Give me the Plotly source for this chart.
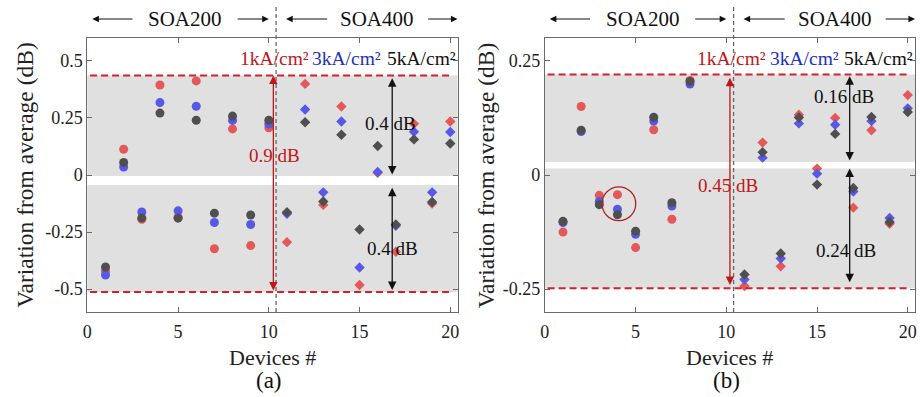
import plotly.graph_objects as go

# ---------------- data ----------------
devices = list(range(1, 21))

# (a) variation from average, dB, per drive current
red_a = [-0.42, 0.113, -0.194, 0.394, -0.185, 0.412, -0.323, 0.202, -0.309, 0.207,
         -0.294, 0.399, -0.131, 0.300, -0.482, 0.010, -0.336, 0.224, -0.125, 0.234]
blue_a = [-0.438, 0.035, -0.162, 0.317, -0.157, 0.301, -0.208, 0.239, -0.217, 0.223,
          -0.170, 0.287, -0.076, 0.234, -0.405, 0.013, -0.222, 0.189, -0.076, 0.188]
gray_a = [-0.403, 0.055, -0.188, 0.271, -0.189, 0.240, -0.167, 0.258, -0.175, 0.240,
          -0.163, 0.231, -0.116, 0.176, -0.239, 0.127, -0.217, 0.156, -0.118, 0.138]

# (b)
red_b = [-0.125, 0.150, -0.0445, -0.043, -0.159, 0.099, -0.097, 0.207, None, None,
         -0.243, 0.071, -0.200, 0.132, 0.014, 0.125, -0.0715, 0.098, -0.107, 0.175]
blue_b = [-0.104, 0.095, -0.058, -0.075, -0.130, 0.118, -0.068, 0.199, None, None,
          -0.229, 0.038, -0.183, 0.113, 0.003, 0.110, -0.036, 0.118, -0.094, 0.146]
gray_b = [-0.1015, 0.098, -0.065, -0.087, -0.123, 0.1265, -0.0606, 0.205, None, None,
          -0.218, 0.050, -0.172, 0.126, -0.021, 0.090, -0.0285, 0.127, -0.103, 0.138]

# envelope (red dashed) and half-spread bands
env_a = [0.436, -0.512]
band_a = [(0.436, -0.004), (-0.044, -0.512)]
env_b = [0.220, -0.248]
band_b = [(0.220, 0.0285), (0.014, -0.248)]

spread_labels_a = ["0.9 dB", "0.4 dB", "0.4 dB"]
spread_labels_b = ["0.45 dB", "0.16 dB", "0.24 dB"]

yticks_a = [-0.5, -0.25, 0, 0.25, 0.5]
yticks_b = [-0.25, 0, 0.25]
xticks = [0, 5, 10, 15, 20]
current_labels = ["1kA/cm²", "3kA/cm²", "5kA/cm²"]
group_labels = ["SOA200", "SOA400"]

# ---------------- style ----------------
FONT = "Liberation Serif"
RED = "#E35858"
BLUE = "#5858E6"
GRAY = "#4F4F4F"
RED_TXT = "#C0161B"
BLUE_TXT = "#2230C0"
BAND = "#E0E0E0"
W, H = 920, 397

fig = go.Figure()


def add_points(xa, ya, red, blue, gray):
    for vals, color in ((red, RED), (blue, BLUE), (gray, GRAY)):
        fig.add_trace(go.Scatter(
            x=devices[:10], y=vals[:10], mode="markers", xaxis=xa, yaxis=ya,
            marker=dict(symbol="circle", size=9, color=color), showlegend=False))
        fig.add_trace(go.Scatter(
            x=devices[10:], y=vals[10:], mode="markers", xaxis=xa, yaxis=ya,
            marker=dict(symbol="diamond", size=8, color=color), showlegend=False))


add_points("x", "y", red_a, blue_a, gray_a)
add_points("x2", "y2", red_b, blue_b, gray_b)

dom_top = 1 - 38 / H
dom_bot = 1 - 312 / H

axis_common = dict(
    showgrid=False, zeroline=False, showline=True, linecolor="#6A6A6A", linewidth=1,
    mirror="ticks", ticks="inside", ticklen=5, tickcolor="#6A6A6A",
    tickfont=dict(family=FONT, size=18, color="#222"),
)

fig.update_layout(
    width=W, height=H, margin=dict(l=0, r=0, t=0, b=0),
    paper_bgcolor="white", plot_bgcolor="white",
    font=dict(family=FONT),
    xaxis=dict(domain=[83 / W, 456 / W], range=[0, 20.4], tickvals=xticks, anchor="y",
               ticklabelstandoff=3, **axis_common),
    yaxis=dict(domain=[dom_bot, dom_top], range=[-0.6, 0.6], tickvals=yticks_a,
               ticktext=["-0.5", "-0.25", "0", "0.25", "0.5"], anchor="x", **axis_common),
    xaxis2=dict(domain=[544 / W, 917 / W], range=[0, 20.4], tickvals=xticks, anchor="y2",
                ticklabelstandoff=3, **axis_common),
    yaxis2=dict(domain=[dom_bot, dom_top], range=[-0.3, 0.3], tickvals=yticks_b,
                ticktext=["-0.25", "0", "0.25"], anchor="x2", **axis_common),
)

shapes = []
annotations = []


def label(**kw):
    kw.setdefault("xanchor", "center")
    kw.setdefault("yanchor", "middle")
    kw["showarrow"] = False
    annotations.append(kw)


def panel_decor(xr, yr, env, bands, labels, red_arrow, red_lab_xy, blk_arrows, blk_labs,
                xpix0, tag):
    # gray half-spread bands
    for top, bot in bands:
        shapes.append(dict(type="rect", xref=f"{xr} domain", yref=yr, x0=0, x1=1,
                           y0=bot, y1=top, fillcolor=BAND, line_width=0, layer="below"))
    # envelope lines
    for v in env:
        shapes.append(dict(type="line", xref=xr, yref=yr, x0=0.15, x1=20, y0=v, y1=v,
                           line=dict(color="#D0202A", width=2, dash="7px,4px")))
    # SOA200 / SOA400 divider
    shapes.append(dict(type="line", xref=xr, yref="paper", x0=10.4, x1=10.4,
                       y0=dom_bot, y1=1 - 4 / H,
                       line=dict(color="#666", width=1.3, dash="4px,3px")))
    # red total-spread arrow
    xa, y_top, y_bot = red_arrow
    annotations.append(dict(xref=xr, yref=yr, axref=xr, ayref=yr, x=xa, y=y_top, ax=xa,
                            ay=y_bot, text="", showarrow=True, arrowside="end+start",
                            arrowhead=2, startarrowhead=2, arrowsize=1.3, startarrowsize=1.3,
                            arrowwidth=1.3, arrowcolor="#C0161B"))
    label(xref=xr, yref=yr, x=red_lab_xy[0], y=red_lab_xy[1], text=labels[0],
          font=dict(family=FONT, size=19, color=RED_TXT))
    # black half-spread arrows
    for (xb, t, b), (lx, ly), lab in zip(blk_arrows, blk_labs, labels[1:]):
        annotations.append(dict(xref=xr, yref=yr, axref=xr, ayref=yr, x=xb, y=t, ax=xb,
                                ay=b, text="", showarrow=True, arrowside="end+start",
                                arrowhead=2, startarrowhead=2, arrowsize=1.3,
                                startarrowsize=1.3, arrowwidth=1.3, arrowcolor="#111"))
        label(xref=xr, yref=yr, x=lx, y=ly, text=lab,
              font=dict(family=FONT, size=19, color="#111"))
    # current-density key
    for cx, lab, col in zip([10.3, 14.3, 18.4], current_labels, [RED_TXT, BLUE_TXT, "#111"]):
        label(xref=xr, yref="paper", x=cx, y=1 - 58 / H, text=lab,
              font=dict(family=FONT, size=19.5, color=col))
    # group header with arrows
    yh = 1 - 19 / H
    for (tip, tail) in [(0.27, 2.57), (10.0, 8.2), (10.95, 13.3), (20.4, 18.7)]:
        annotations.append(dict(xref=xr, yref="paper", axref=xr, ayref="pixel", x=tip, y=yh,
                                ax=tail, ay=0, text="", showarrow=True, arrowhead=2,
                                arrowsize=1.1, arrowwidth=1.2, arrowcolor="#111"))
    for cx, lab in zip([5.39, 15.97], group_labels):
        label(xref=xr, yref="paper", x=cx, y=yh, text=lab,
              font=dict(family=FONT, size=21, color="#111"))
    # axis titles and panel tag
    label(xref=xr, yref="paper", x=10.2, y=1 - 357 / H, text="Devices #",
          font=dict(family=FONT, size=22, color="#222"))
    label(xref=xr, yref="paper", x=10.0, y=1 - 380 / H, text=tag,
          font=dict(family=FONT, size=23, color="#111"))
    label(xref="paper", yref="paper", x=xpix0 / W, y=1 - 175 / H,
          text="Variation from average (dB)", textangle=-90,
          font=dict(family=FONT, size=23.5, color="#222"))


panel_decor("x", "y", env_a, band_a, spread_labels_a,
            (10.25, 0.436, -0.512), (10.3, 0.087),
            [(16.8, 0.424, -0.004), (16.8, -0.056, -0.51)],
            [(16.7, 0.227), (16.8, -0.323)], 20, "(a)")
panel_decor("x2", "y2", env_b, band_b, spread_labels_b,
            (10.2, 0.213, -0.244), (10.1, -0.023),
            [(16.8, 0.216, 0.0285), (16.8, 0.014, -0.238)],
            [(16.5, 0.171), (16.6, -0.165)], 485, "(b)")

# highlighted device in (b)
shapes.append(dict(type="circle", xref="x2", yref="y2", x0=4.08 - 0.93, x1=4.08 + 0.93,
                   y0=-0.063 - 0.037, y1=-0.063 + 0.037,
                   line=dict(color="#B01E22", width=1.3)))

fig.update_layout(shapes=shapes, annotations=annotations)
fig.write_html("out.html")
